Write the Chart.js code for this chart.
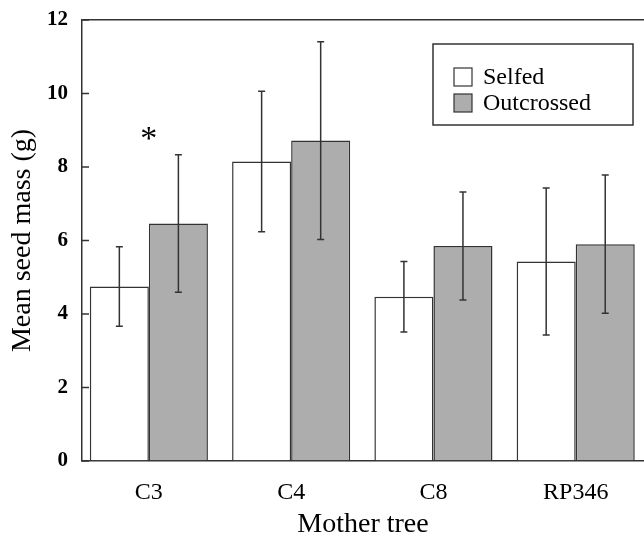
<!DOCTYPE html>
<html lang="en">
<head>
    <meta charset="UTF-8">
    <title>Mean seed mass</title>
    <script src="https://cdn.jsdelivr.net/npm/chart.js"></script>
    <style>
        body { margin: 0; background: #fff; }
        #wrap { width: 644px; height: 541px; }
    </style>
</head>
<body>
    <div id="wrap"><canvas id="seedChart"></canvas></div>

    <script>
        // Data
        var trees = ['C3', 'C4', 'C8', 'RP346'];
        var selfedMean = [4.75, 8.15, 4.47, 5.43];
        var selfedErr = [1.08, 1.91, 0.96, 2.0];
        var outcrossedMean = [6.46, 8.72, 5.85, 5.9];
        var outcrossedErr = [1.87, 2.69, 1.47, 1.88];
        var yTicks = [0, 2, 4, 6, 8, 10, 12];
        // significance marker above C3
        var starTree = 0, starValue = 8.8;

        var serif = "'Liberation Serif', 'Times New Roman', serif";
        var ink = '#333';

        function toPoints(arr) {
            return arr.map(function (v, i) { return { x: i, y: v }; });
        }

        // error bars through the middle of each bar
        var errorBars = {
            id: 'errorBars',
            afterDatasetsDraw: function (chart) {
                var ctx = chart.ctx, y = chart.scales.y;
                var errs = [selfedErr, outcrossedErr];
                ctx.save();
                ctx.strokeStyle = ink;
                ctx.lineWidth = 1.5;
                chart.data.datasets.forEach(function (ds, d) {
                    chart.getDatasetMeta(d).data.forEach(function (bar, i) {
                        var v = ds.data[i].y, e = errs[d][i];
                        var hi = y.getPixelForValue(v + e), lo = y.getPixelForValue(v - e);
                        ctx.beginPath();
                        ctx.moveTo(bar.x, hi); ctx.lineTo(bar.x, lo);
                        ctx.moveTo(bar.x - 3.5, hi); ctx.lineTo(bar.x + 3.5, hi);
                        ctx.moveTo(bar.x - 3.5, lo); ctx.lineTo(bar.x + 3.5, lo);
                        ctx.stroke();
                    });
                });
                ctx.restore();
            }
        };

        // inward tick marks, star and the boxed legend
        var extras = {
            id: 'extras',
            afterDraw: function (chart) {
                var ctx = chart.ctx, area = chart.chartArea;
                var x = chart.scales.x, y = chart.scales.y;
                ctx.save();
                ctx.strokeStyle = ink;
                ctx.lineWidth = 1.5;
                yTicks.forEach(function (t) {
                    var py = y.getPixelForValue(t);
                    ctx.beginPath();
                    ctx.moveTo(area.left, py); ctx.lineTo(area.left + 7, py);
                    ctx.stroke();
                });

                ctx.fillStyle = '#000';
                ctx.font = '34px ' + serif;
                ctx.textAlign = 'center';
                ctx.textBaseline = 'middle';
                ctx.fillText('*', x.getPixelForValue(starTree), y.getPixelForValue(starValue) + 2);

                // legend
                var bx = 433, by = 44, bw = 200, bh = 81;
                ctx.lineWidth = 1.5;
                ctx.strokeRect(bx, by, bw, bh);
                ctx.font = '24px ' + serif;
                ctx.textAlign = 'left';
                chart.data.datasets.forEach(function (ds, d) {
                    var cy = 77 + d * 26;
                    ctx.fillStyle = ds.backgroundColor;
                    ctx.fillRect(454, cy - 9, 18, 18);
                    ctx.strokeStyle = ink;
                    ctx.lineWidth = 1.2;
                    ctx.strokeRect(454, cy - 9, 18, 18);
                    ctx.fillStyle = '#000';
                    ctx.fillText(ds.label, 483, cy + 1);
                });
                ctx.restore();
            }
        };

        var ctx = document.getElementById('seedChart').getContext('2d');
        var seedChart = new Chart(ctx, {
            type: 'bar',
            data: {
                datasets: [{
                    label: 'Selfed',
                    data: toPoints(selfedMean),
                    backgroundColor: '#ffffff',
                    borderColor: ink,
                    borderWidth: 1.5
                }, {
                    label: 'Outcrossed',
                    data: toPoints(outcrossedMean),
                    backgroundColor: '#adadae',
                    borderColor: ink,
                    borderWidth: 1.5
                }]
            },
            options: {
                responsive: true,
                maintainAspectRatio: false,
                animation: false,
                layout: { padding: { top: 20, right: 0, left: 0, bottom: 0 } },
                categoryPercentage: 0.83,
                barPercentage: 1,
                plugins: {
                    legend: { display: false },
                    tooltip: { enabled: false }
                },
                scales: {
                    x: {
                        type: 'linear',
                        offset: false,
                        min: -0.47,
                        max: 3.48,
                        afterBuildTicks: function (scale) {
                            scale.ticks = trees.map(function (t, i) { return { value: i }; });
                        },
                        afterFit: function (scale) {
                            scale.height = 80;
                            scale.paddingLeft = 0;
                            scale.paddingRight = 0;
                        },
                        grid: { display: false, offset: false },
                        border: { color: ink, width: 1.5 },
                        ticks: {
                            callback: function (v) { return trees[v]; },
                            font: { family: serif, size: 24 },
                            color: '#000',
                            padding: 9,
                            maxRotation: 0
                        },
                        title: {
                            display: true,
                            text: 'Mother tree',
                            font: { family: serif, size: 28 },
                            color: '#000',
                            padding: { top: 0, bottom: 0 }
                        }
                    },
                    y: {
                        min: 0,
                        max: 12,
                        afterFit: function (scale) {
                            scale.width = 82;
                            scale.paddingTop = 0;
                            scale.paddingBottom = 0;
                        },
                        afterBuildTicks: function (scale) {
                            scale.ticks = yTicks.map(function (v) { return { value: v }; });
                        },
                        grid: {
                            drawTicks: false,
                            color: function (c) { return c.tick && c.tick.value === 12 ? ink : 'rgba(0,0,0,0)'; },
                            lineWidth: 1.5
                        },
                        border: { color: ink, width: 1.5 },
                        ticks: {
                            font: { family: serif, size: 21, weight: 'bold' },
                            color: '#000',
                            padding: 14
                        },
                        title: {
                            display: true,
                            text: 'Mean seed mass (g)',
                            font: { family: serif, size: 28 },
                            color: '#000',
                            padding: { top: 6, bottom: 0 }
                        }
                    }
                }
            },
            plugins: [errorBars, extras]
        });
    </script>
</body>
</html>
